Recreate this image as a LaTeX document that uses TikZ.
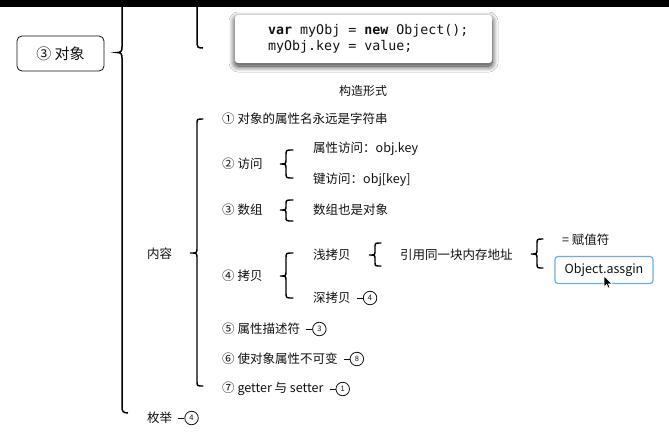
\documentclass[tikz,border=0pt]{standalone}
\usepackage{fontspec}
\setmainfont{Noto Sans CJK SC}
\newfontfamily\codefont{DejaVu Sans Mono}
\usetikzlibrary{shadows.blur,positioning}
\definecolor{ink}{HTML}{111111}
\definecolor{boxblue}{HTML}{6AAEE6}
\newcommand\brc[7]{% x, ytop, ymid, ybot, hook width, tip depth, radius
  \draw[brline] ({#1+#5},#2) .. controls ({#1},#2) .. ({#1},{#2+#7}) -- ({#1},{#3-#7})
    .. controls ({#1},#3) .. ({#1-#6},#3) .. controls ({#1},#3) .. ({#1},{#3+#7})
    -- ({#1},{#4-#7}) .. controls ({#1},#4) .. ({#1+#5},#4);}
\begin{document}
\begin{tikzpicture}[x=1pt,y=-1pt,
  txt/.style={anchor=west,inner sep=0pt,text=ink,font=\fontsize{12.5}{14}\selectfont},
  tag/.style={circle,draw=ink,line width=0.8pt,inner sep=0pt,minimum size=13.5pt,
    text=ink,font=\fontsize{7.5}{8}\selectfont},
  tagline/.style={draw=ink,line width=1pt},
  brline/.style={draw=black,line width=1.4pt,line cap=round},
  mainline/.style={draw=black,line width=1.5pt}]
\useasboundingbox (0,0) rectangle (669,432);
\fill[white] (0,0) rectangle (669,432);
\fill[black] (0,0) rectangle (669,7);

% root node
\node[draw=ink,line width=0.8pt,rounded corners=5pt,minimum width=87pt,minimum height=35pt,
  text=ink,font=\fontsize{15}{17}\selectfont] (root) at (60.5,53.5) {③ 对象};

% main line with tip
\draw[mainline] (122,7) -- (122,47) .. controls (122,51) and (121,52.5) .. (117,52.5)
  .. controls (121,52.5) and (122,54) .. (122,58) -- (122,407)
  .. controls (122,411) and (123,413) .. (128,413);

% upper brace end
\draw[mainline] (197,7) -- (197,44) .. controls (197,47) and (198,48) .. (203,48);

% code box
\node[fill=white,rounded corners=3pt,minimum width=257pt,minimum height=48pt,
  blur shadow={shadow xshift=0pt,shadow yshift=-3pt,shadow blur radius=6pt,shadow blur steps=12,shadow opacity=85}]
  (code) at (363.5,39) {};
\node[anchor=west,inner sep=0pt,text=ink,font=\codefont\fontsize{13.3}{15}\selectfont] (c1) at (268,31)
  {\textbf{var} myObj = \textbf{new} Object();};
\node[anchor=west,inner sep=0pt,text=ink,font=\codefont\fontsize{13.3}{15}\selectfont] (c2) at (268,47)
  {myObj.key = value;};
\node[inner sep=0pt,text=ink,font=\fontsize{12}{13}\selectfont] (gz) at (363,91) {构造形式};

% 内容 brace
\brc{197}{119}{253}{386}{6}{7}{5}
\node[txt] (nr) at (147,254) {内容};

% items
\node[txt] (i1) at (222,119) {① 对象的属性名永远是字符串};
\node[txt] (i2) at (222,164) {② 访问};
\brc{286}{150}{164}{178}{7}{6}{5}
\node[txt] (i2a) at (313,149) {属性访问：obj.key};
\node[txt] (i2b) at (313,180) {键访问：obj[key]};

\node[txt] (i3) at (222,210) {③ 数组};
\brc{286}{200}{210}{221}{7}{6}{4}
\node[txt] (i3a) at (313,210) {数组也是对象};

\node[txt] (i4) at (222,276) {④ 拷贝};
\brc{286}{253}{276}{298}{7}{6}{5}
\node[txt] (i4a) at (313,255) {浅拷贝};
\brc{375}{243}{255}{266}{6}{6}{4}
\node[txt] (i4aa) at (400,255) {引用同一块内存地址};
\brc{537}{239}{254}{268}{6}{6}{5}
\node[txt] (eq) at (562,240) {= 赋值符};
\node[draw=boxblue,line width=1.2pt,rounded corners=3pt,minimum width=98pt,minimum height=27pt,
  inner sep=0pt,text=ink,font=\fontsize{12.5}{14}\selectfont] (oa) at (604,270) {Object.assgin};
\node[txt] (i4b) at (313,298) {深拷贝};
\node[tag,right=12pt of i4b] (t4b) {4};
\draw[tagline] ([xshift=6pt]i4b.east) -- (t4b.west);

\node[txt] (i5) at (222,329) {⑤ 属性描述符};
\node[tag,right=12pt of i5] (t5) {3};
\draw[tagline] ([xshift=6pt]i5.east) -- (t5.west);

\node[txt] (i6) at (222,359) {⑥ 使对象属性不可变};
\node[tag,right=12pt of i6] (t6) {8};
\draw[tagline] ([xshift=6pt]i6.east) -- (t6.west);

\node[txt] (i7) at (222,389) {⑦ getter 与 setter};
\node[tag,right=12pt of i7] (t7) {1};
\draw[tagline] ([xshift=6pt]i7.east) -- (t7.west);

\node[txt] (en) at (147,418) {枚举};
\node[tag,right=12pt of en] (ten) {4};
\draw[tagline] ([xshift=6pt]en.east) -- (ten.west);

% cursor
\coordinate (cur) at (604,276);
\draw[white,line width=0.6pt,fill=black,shift={(cur)}] (0,0) -- (0,11) -- (2.6,8.4) -- (4.4,12.2)
  -- (6,11.5) -- (4.3,7.8) -- (7.8,7.8) -- cycle;
\end{tikzpicture}
\end{document}
